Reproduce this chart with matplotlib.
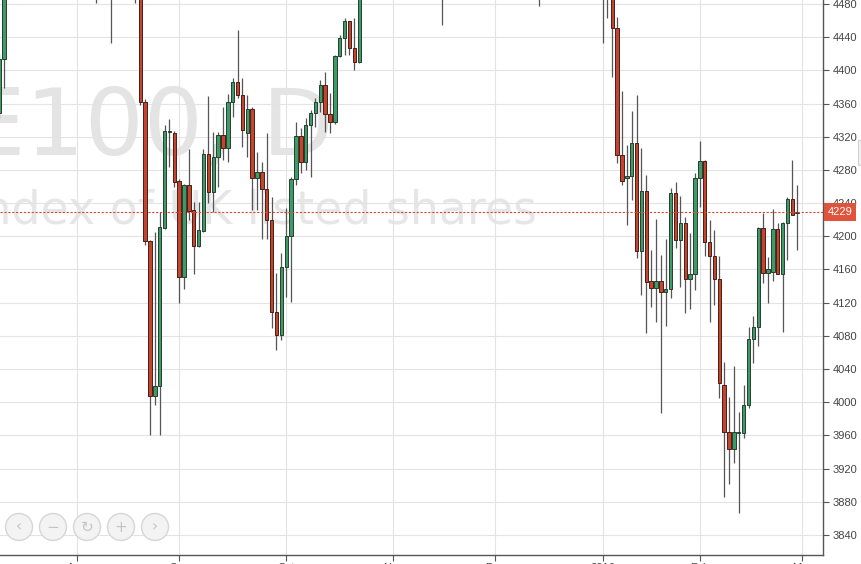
import matplotlib.pyplot as plt
from matplotlib.patches import Ellipse, Rectangle

# trading session number, 0 = first session of August 2015
days = [-16, -15, 4, 7, 12, 13, 14, 15, 16, 17, 18, 19, 20, 21, 22, 23, 24, 25,
        26, 27, 28, 29, 30, 31, 32, 33, 34, 35, 36, 37, 38, 39, 40, 41, 42, 43,
        44, 45, 46, 47, 48, 49, 50, 51, 52, 53, 54, 55, 56, 57, 58, 75, 95,
        108, 109, 110, 111, 112, 113, 114, 115, 116, 117, 118, 119, 120, 121,
        122, 123, 124, 125, 126, 127, 128, 129, 130, 131, 132, 133, 134, 135,
        136, 137, 138, 139, 140, 141, 142, 143, 144, 145, 146, 147, 148]
opens = [4349, 4414, 4520, 4510, 4530, 4540, 4362, 4194, 4008, 4020, 4210, 4326,
         4325, 4267, 4151, 4262, 4232, 4188, 4206, 4299, 4253, 4296, 4322, 4306,
         4362, 4386, 4370, 4325, 4353, 4270, 4278, 4257, 4220, 4109, 4081, 4163,
         4200, 4269, 4321, 4290, 4334, 4349, 4362, 4382, 4347, 4338, 4417, 4439,
         4460, 4427, 4410, 4540, 4510,
         4520, 4500, 4495, 4451, 4298, 4270, 4273, 4312, 4182, 4255, 4146, 4138,
         4146, 4133, 4137, 4252, 4196, 4216, 4149, 4155, 4270, 4291, 4193, 4176,
         4149, 4021, 3964, 3944, 3963, 3963, 3997, 4076, 4091, 4210, 4156, 4157,
         4209, 4155, 4216, 4245, 4228]
highs = [4420, 4512, 4530, 4540, 4545, 4550, 4366, 4196, 4205, 4229, 4334, 4341,
         4327, 4269, 4263, 4305, 4241, 4241, 4305, 4369, 4326, 4326, 4356, 4372,
         4391, 4449, 4391, 4370, 4356, 4302, 4290, 4325, 4247, 4156, 4180, 4234,
         4271, 4338, 4331, 4343, 4352, 4367, 4388, 4398, 4373, 4419, 4443, 4463,
         4460, 4463, 4510, 4560, 4545,
         4530, 4515, 4500, 4464, 4375, 4310, 4351, 4370, 4306, 4274, 4184, 4221,
         4177, 4197, 4258, 4265, 4249, 4223, 4204, 4276, 4315, 4292, 4220, 4208,
         4176, 4049, 4006, 4044, 3988, 4021, 4091, 4104, 4211, 4228, 4175, 4233,
         4216, 4217, 4247, 4292, 4262]
lows = [4343, 4379, 4481, 4433, 4481, 4358, 4190, 3961, 3997, 3961, 4209, 4284,
        4259, 4120, 4137, 4220, 4155, 4187, 4205, 4240, 4229, 4259, 4292, 4290,
        4344, 4367, 4308, 4296, 4232, 4232, 4197, 4197, 4089, 4063, 4075, 4127,
        4121, 4262, 4276, 4280, 4271, 4332, 4350, 4326, 4325, 4335, 4416, 4419,
        4419, 4400, 4409, 4455, 4477,
        4433, 4463, 4392, 4288, 4262, 4214, 4244, 4174, 4129, 4083, 4115, 4097,
        3987, 4092, 4126, 4186, 4139, 4108, 4112, 4135, 4235, 4176, 4097, 4117,
        4005, 3886, 3901, 3927, 3867, 3957, 3993, 4047, 4068, 4144, 4120, 4146,
        4155, 4085, 4171, 4226, 4184]
closes = [4414, 4500, 4505, 4525, 4515, 4362, 4194, 4008, 4020, 4211, 4327, 4327,
          4265, 4151, 4262, 4231, 4188, 4208, 4299, 4253, 4296, 4322, 4306, 4362,
          4386, 4370, 4328, 4353, 4270, 4278, 4257, 4220, 4109, 4081, 4163, 4200,
          4269, 4321, 4290, 4334, 4349, 4362, 4382, 4347, 4338, 4417, 4439, 4460,
          4427, 4410, 4500, 4520, 4530,
          4500, 4495, 4451, 4298, 4267, 4273, 4312, 4182, 4255, 4145, 4138, 4146,
          4133, 4137, 4252, 4196, 4216, 4149, 4155, 4270, 4291, 4193, 4176, 4149,
          4023, 3964, 3944, 3964, 3964, 3997, 4076, 4091, 4210, 4156, 4161, 4209,
          4155, 4216, 4245, 4226, 4229]

month_days = [0, 21, 43, 65, 86, 108, 128, 149]
month_labels = ['Aug', 'Sep', 'Oct', 'Nov', 'Dec', '2016', 'Feb', 'Mar']
price_ticks = list(range(3840, 4481, 40))
last_price = 4229

W, H = 862, 564
fig = plt.figure(figsize=(W / 100, H / 100), dpi=100)
ax = fig.add_axes([0, 9 / H, 823 / W, 555 / H])

up_col, up_edge = '#3f9a67', '#24402f'
dn_col, dn_edge = '#c4452f', '#4a1d15'

ax.vlines(days, lows, highs, color='#555555', lw=0.9, zorder=2)
for d, o, c in zip(days, opens, closes):
    up = c >= o
    ax.bar(d, max(abs(c - o), 0.8), bottom=min(o, c), width=0.7,
           color=up_col if up else dn_col,
           edgecolor=up_edge if up else dn_edge, linewidth=0.7, zorder=3)

ax.set_xlim(-15.82, 153.31)
ax.set_ylim(3815.9, 4484.8)

ax.yaxis.tick_right()
ax.set_yticks(price_ticks)
ax.set_xticks(month_days, month_labels)
ax.tick_params(axis='both', direction='out', length=4, color='#555555',
               labelsize=8, labelcolor='#444444')
ax.tick_params(axis='x', pad=2)
ax.tick_params(axis='y', pad=3)
for lab in ax.get_xticklabels() + ax.get_yticklabels():
    lab.set_family('Liberation Sans')

for s in ['top', 'left']:
    ax.spines[s].set_visible(False)
for s in ['right', 'bottom']:
    ax.spines[s].set_color('#555555')
    ax.spines[s].set_linewidth(1)

ax.grid(True, color='#e3e3e3', lw=0.8)
ax.set_axisbelow(True)

# watermark
ax.text(334 / W, 1 - 155 / H, 'FTSE100, D', transform=fig.transFigure,
        ha='right', va='baseline', fontsize=67, color='#e4e4e4', zorder=0.5)
ax.text(537 / W, 1 - 224 / H, 'Index of UK listed shares', transform=fig.transFigure,
        ha='right', va='baseline', fontsize=33, color='#e6e6e6', zorder=0.5)

# last price line and tag
ax.axhline(last_price, color='#d9473a', ls=(0, (2, 1.5)), lw=0.8, zorder=4)
ax.annotate(str(last_price), xy=(1, last_price), xycoords=ax.get_yaxis_transform(),
            xytext=(3.2, 0), textcoords='offset points', ha='left', va='center',
            color='white', fontsize=8, family='Liberation Sans',
            bbox=dict(boxstyle='square,pad=0.35', fc='#e0533c', ec='none'),
            annotation_clip=False, zorder=10)

# navigation buttons
for i, sym in enumerate(['\u2039', '\u2212', '\u21bb', '+', '\u203a']):
    cx = 19 + 34 * i
    fig.add_artist(Ellipse((cx / W, 1 - 527 / H), 27 / W, 27 / H,
                           fc='#f3f3f3', ec='#d6d6d6', lw=1,
                           transform=fig.transFigure))
    fig.text(cx / W, 1 - 527 / H, sym, ha='center', va='center',
             fontsize=11, color='#c4c4c4')

fig.add_artist(Rectangle((858 / W, 1 - 165 / H), 6 / W, 25 / H,
                         fc='#f2f2f2', ec='#d0d0d0', lw=0.8,
                         transform=fig.transFigure))

fig.savefig('out.png', dpi=100)
